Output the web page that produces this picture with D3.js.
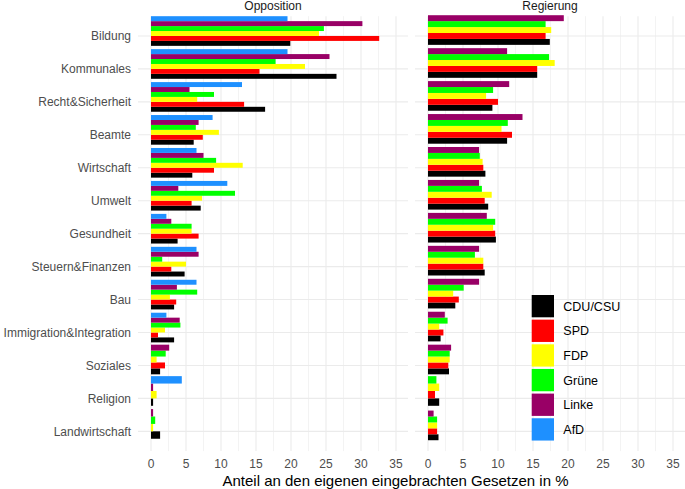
<!DOCTYPE html>
<html>
<head>
<meta charset="utf-8">
<script src="https://cdn.jsdelivr.net/npm/d3@7"></script>
<style>
  html, body { margin: 0; padding: 0; background: #fff; }
  svg { display: block; font-family: "Liberation Sans", Arial, sans-serif; }
</style>
</head>
<body>
<svg id="chart" width="685" height="489"></svg>
<script>
const categories = ["Bildung","Kommunales","Recht&Sicherheit","Beamte","Wirtschaft","Umwelt","Gesundheit","Steuern&Finanzen","Bau","Immigration&Integration","Soziales","Religion","Landwirtschaft"];
const parties = ["CDU/CSU","SPD","FDP","Grüne","Linke","AfD"];
const partyColors = ["#000000","#FF0000","#FFFF00","#00FF00","#990066","#1E90FF"];
const panels = ["Opposition","Regierung"];
const xTicks = [0,5,10,15,20,25,30,35];

// Opposition values (%)
const oppCDU   = [19.9, 26.5, 16.3, 6.1, 5.9, 7.1, 3.8, 4.8, 3.3, 3.3, 1.3, 0.3, 1.3];
const oppSPD   = [32.6, 15.5, 13.3, 7.4, 9.0, 5.8, 6.8, 2.9, 3.6, 1.0, 2.0, null, null];
const oppFDP   = [24.0, 22.0, 6.6, 9.7, 13.1, 7.3, 5.8, 5.0, 2.7, 2.0, 0.8, 0.8, 0.3];
const oppGruene= [24.7, 17.8, 9.0, 6.4, 9.3, 12.0, 5.8, 1.6, 6.6, 4.2, 2.1, null, 0.6];
const oppLinke = [30.2, 25.5, 5.5, 6.8, 7.5, 3.9, 2.9, 6.8, 3.7, 4.1, 2.6, 0.3, 0.3];
const oppAfD   = [19.5, 19.5, 13.0, 8.8, 6.5, 10.9, 2.2, 6.5, 6.5, 2.2, null, 4.4, null];

// Regierung values (%)
const govCDU   = [17.4, 15.6, 9.2, 11.3, 8.2, 8.6, 9.7, 8.1, 3.9, 1.8, 3.0, 1.6, 1.5];
const govSPD   = [16.8, 15.6, 10.0, 12.0, 7.9, 8.1, 9.6, 7.9, 4.4, 2.2, 2.9, 1.0, 1.3];
const govFDP   = [17.6, 18.1, 8.3, 10.5, 7.8, 9.1, 9.3, 7.9, 3.6, 1.6, 3.1, 1.6, 1.3];
const govGruene= [16.8, 17.3, 9.3, 11.4, 7.4, 7.7, 9.6, 6.7, 5.1, 2.8, 3.1, 1.2, 1.3];
const govLinke = [19.4, 11.3, 11.6, 13.5, 7.3, 7.3, 8.4, 7.3, 7.3, 2.4, 3.3, null, 0.8];
const govAfD   = [null, null, null, null, null, null, null, null, null, null, null, null, null];

const panelSeries = {
  "Opposition": [oppCDU, oppSPD, oppFDP, oppGruene, oppLinke, oppAfD],
  "Regierung":  [govCDU, govSPD, govFDP, govGruene, govLinke, govAfD]
};

const svg = d3.select("#chart");
svg.append("rect").attr("width", 685).attr("height", 489).attr("fill", "#fff");

const panelTop = 16.2, panelBottom = 451.1;
const panelX = { "Opposition": [138, 408], "Regierung": [415, 685] };
const xDomain = [-13/7, 257/7];

const y = d3.scalePoint().domain(categories).range([panelTop, panelBottom]).padding(0.6);
const groupH = y.step() * 0.9;

const color = d3.scaleOrdinal().domain(parties).range(partyColors);
const gridCol = "#EBEBEB";

panels.forEach(p => {
  const x = d3.scaleLinear().domain(xDomain).range(panelX[p]);
  const g = svg.append("g");
  // minor vertical grid
  const minor = d3.range(2.5, 36, 5).filter(v => v > xDomain[0] && v < xDomain[1]);
  g.selectAll(".minor").data(minor).join("line")
    .attr("x1", d => x(d)).attr("x2", d => x(d))
    .attr("y1", panelTop).attr("y2", panelBottom)
    .attr("stroke", gridCol).attr("stroke-width", 0.6);
  // major vertical grid
  g.selectAll(".major").data(xTicks).join("line")
    .attr("x1", d => x(d)).attr("x2", d => x(d))
    .attr("y1", panelTop).attr("y2", panelBottom)
    .attr("stroke", gridCol).attr("stroke-width", 1.1);
  // horizontal grid
  g.selectAll(".hgrid").data(categories).join("line")
    .attr("x1", panelX[p][0]).attr("x2", panelX[p][1])
    .attr("y1", d => y(d)).attr("y2", d => y(d))
    .attr("stroke", gridCol).attr("stroke-width", 1.1);

  // bars
  const series = panelSeries[p];
  categories.forEach((cat, ci) => {
    const present = parties.filter((pt, pi) => series[pi][ci] !== null);
    const inner = d3.scaleBand().domain(present)
      .range([y(cat) + groupH / 2, y(cat) - groupH / 2]);
    present.forEach(pt => {
      const pi = parties.indexOf(pt);
      const v = series[pi][ci];
      g.append("rect")
        .attr("x", x(0))
        .attr("y", inner(pt) - inner.bandwidth())
        .attr("width", x(v) - x(0))
        .attr("height", inner.bandwidth())
        .attr("fill", color(pt));
    });
  });

  // x axis labels
  g.selectAll(".xt").data(xTicks).join("text")
    .attr("x", d => x(d)).attr("y", 468)
    .attr("text-anchor", "middle")
    .attr("font-size", 12).attr("fill", "#4D4D4D")
    .text(d => d);

  // strip label
  svg.append("text")
    .attr("x", (panelX[p][0] + panelX[p][1]) / 2).attr("y", 10)
    .attr("text-anchor", "middle")
    .attr("font-size", 12).attr("fill", "#1A1A1A")
    .text(p);
});

// y axis labels
svg.selectAll(".yl").data(categories).join("text")
  .attr("x", 131).attr("y", d => y(d) + 4.3)
  .attr("text-anchor", "end")
  .attr("font-size", 12).attr("fill", "#4D4D4D")
  .text(d => d);

// x axis title
svg.append("text")
  .attr("x", 395.5).attr("y", 486)
  .attr("text-anchor", "middle")
  .attr("font-size", 15).attr("fill", "#000")
  .text("Anteil an den eigenen eingebrachten Gesetzen in %");

// legend
const lg = svg.append("g");
parties.forEach((pt, i) => {
  const ky = 295 + i * 24.65;
  lg.append("rect")
    .attr("x", 531.7).attr("y", ky)
    .attr("width", 22.3).attr("height", 22.3)
    .attr("fill", color(pt));
  lg.append("text")
    .attr("x", 563.3).attr("y", ky + 11.15 + 4.5)
    .attr("font-size", 12.5).attr("fill", "#000")
    .text(pt);
});
</script>
</body>
</html>
